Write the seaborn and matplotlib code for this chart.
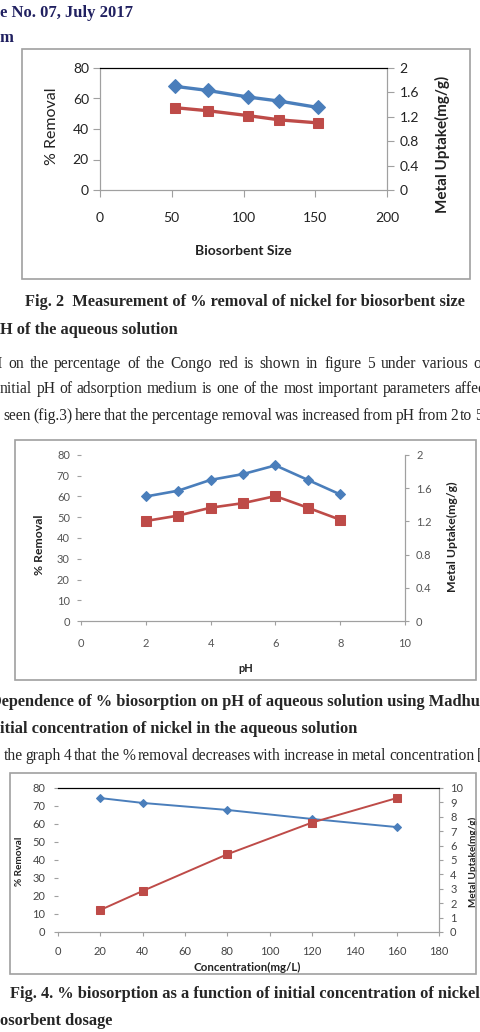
import matplotlib
matplotlib.use("Agg")
import matplotlib.pyplot as plt
from matplotlib.patches import Rectangle
import seaborn as sns
import pandas as pd

# Fig. 2 - effect of biosorbent size
size_x = [52, 75, 103, 125, 152]
size_removal = [68, 65.3, 61, 58.3, 54.1]
size_uptake = [1.35, 1.30, 1.22, 1.15, 1.10]

# Fig. 3 - effect of pH
ph_x = [2, 3, 4, 5, 6, 7, 8]
ph_removal = [60, 62.8, 68, 70.8, 75, 68, 61]
ph_uptake = [1.205, 1.27, 1.365, 1.42, 1.505, 1.365, 1.22]

# Fig. 4 - effect of initial concentration
conc_x = [20, 40, 80, 120, 160]
conc_removal = [74.4, 71.7, 67.8, 62.8, 58.3]
conc_uptake = [1.53, 2.85, 5.4, 7.6, 9.3]

BLUE = "#4a7ebb"
RED = "#be4b48"
GREY = "#a0a0a0"
W, H = 480, 1032

sns.set_style("ticks")
plt.rcParams["font.family"] = ["Lato", "DejaVu Sans"]

fig = plt.figure(figsize=(W / 100, H / 100), dpi=100)


def fx(x):
    return x / W


def fy(y):
    return 1 - y / H


def rect(l, t, r, b):
    return [fx(l), fy(b), (r - l) / W, (b - t) / H]


def box(l, t, r, b):
    fig.add_artist(Rectangle((fx(l), fy(b)), (r - l) / W, (b - t) / H,
                             transform=fig.transFigure, fill=False, ec=GREY, lw=1.2))


def draw_series(ax, x, y, color, marker, ms, lw):
    df = pd.DataFrame({"x": x, "y": y})
    sns.lineplot(data=df, x="x", y="y", ax=ax, color=color, marker=marker,
                 markersize=ms, linewidth=lw, markeredgecolor=color, legend=False)
    ax.set_xlabel("")
    ax.set_ylabel("")


serif = dict(family="Liberation Serif", size=12)
body = dict(family="Liberation Serif", size=11.2)
cap = dict(family="Liberation Serif", size=11.8, weight="bold")

# header
fig.text(0, fy(13), "e No. 07, July 2017", color="#202060", weight="bold", va="center", **serif)
fig.text(0, fy(38), "m", color="#202060", weight="bold", va="center", **serif)

# ---------------- Fig. 2 ----------------
box(22, 49, 470, 279)
ax = fig.add_axes(rect(100, 68, 387, 190))
draw_series(ax, size_x, size_removal, BLUE, "D", 7, 2.4)
ax.set_xlim(0, 200)
ax.set_ylim(0, 80)
ax.set_xticks(range(0, 201, 50))
ax.set_yticks(range(0, 81, 20))
ax2 = ax.twinx()
draw_series(ax2, size_x, size_uptake, RED, "s", 7.5, 2.4)
ax2.set_ylim(0, 2)
ax2.set_yticks([0, 0.4, 0.8, 1.2, 1.6, 2])
ax2.set_yticklabels(["0", "0.4", "0.8", "1.2", "1.6", "2"])
for a in (ax, ax2):
    for s in a.spines.values():
        s.set_color(GREY)
    a.spines["top"].set_color("black")
    a.tick_params(colors=GREY, labelcolor="#222222", labelsize=10, length=5)
ax.tick_params(axis="x", pad=11)
ax.tick_params(axis="y", pad=3)
ax2.tick_params(axis="y", pad=4)
ax.set_xlabel("Biosorbent Size", fontsize=10, weight="bold", color="#222222", va="center")
ax.xaxis.set_label_coords(0.498, -0.5)
ax.set_ylabel("% Removal", fontsize=11.5, color="#222222", va="center")
ax.yaxis.set_label_coords(-0.167, 0.525)
ax2.set_ylabel("Metal Uptake(mg/g)", fontsize=11, weight="bold", color="#222222", va="center")
ax2.yaxis.set_label_coords(1.195, 0.377)

fig.text(fx(25), fy(302), "Fig. 2  Measurement of % removal of nickel for biosorbent size",
         va="center", **cap)
fig.text(0, fy(330), "H of the aqueous solution", va="center", **cap)


def justified(text, x0, x_last, y, **kw):
    words = text.split()
    r = fig.canvas.get_renderer()
    objs = [fig.text(0, fy(y), w, va="center", **kw) for w in words]
    widths = [o.get_window_extent(r).width for o in objs]
    gap = (x_last - x0 - sum(widths[:-1])) / (len(words) - 1)
    x = x0
    for o, w in zip(objs, widths):
        o.set_x(fx(x))
        x += w + gap


fig.text(fx(2), fy(364), "H", ha="right", va="center", **body)
justified("on the percentage of the Congo red is shown in figure 5 under various oth",
          8, 473, 364, **body)
justified("nitial pH of adsorption medium is one of the most important parameters affec",
          0, 455, 389, **body)
justified("seen (fig.3) here that the percentage removal was increased from pH from 2 to 5",
          3, 475, 416, **body)

# ---------------- Fig. 3 ----------------
box(15, 440, 476, 680)
ax = fig.add_axes(rect(81, 455, 405, 621))
draw_series(ax, ph_x, ph_removal, BLUE, "D", 5.5, 1.9)
ax.set_xlim(0, 10)
ax.set_ylim(0, 80)
ax.set_xticks(range(0, 11, 2))
ax.set_yticks(range(0, 81, 10))
ax2 = ax.twinx()
draw_series(ax2, ph_x, ph_uptake, RED, "s", 6.5, 1.9)
ax2.set_ylim(0, 2)
ax2.set_yticks([0, 0.4, 0.8, 1.2, 1.6, 2])
ax2.set_yticklabels(["0", "0.4", "0.8", "1.2", "1.6", "2"])
for a in (ax, ax2):
    for s in a.spines.values():
        s.set_color(GREY)
    a.spines["top"].set_visible(False)
    a.spines["left"].set_visible(False)
    a.tick_params(colors=GREY, labelcolor="#555555", labelsize=8, length=3)
ax.tick_params(axis="x", pad=9)
ax.tick_params(axis="y", pad=5)
ax2.tick_params(axis="y", pad=5)
ax.set_xlabel("pH", fontsize=8, weight="bold", color="#222222", va="center")
ax.xaxis.set_label_coords(0.509, -0.289)
ax.set_ylabel("% Removal", fontsize=8.8, weight="bold", color="#222222", va="center")
ax.yaxis.set_label_coords(-0.127, 0.458)
ax2.set_ylabel("Metal Uptake(mg/g)", fontsize=8.8, weight="bold", color="#222222", va="center")
ax2.yaxis.set_label_coords(1.145, 0.506)

fig.text(fx(-10), fy(702), "Dependence of % biosorption on pH of aqueous solution using Madhu",
         va="center", **cap)
fig.text(0, fy(729), "itial concentration of nickel in the aqueous solution",
         va="center", **cap)
justified("the graph 4 that the % removal decreases with increase in metal concentration [",
          4, 477, 756, **body)

# ---------------- Fig. 4 ----------------
box(10, 773, 476, 974)
ax = fig.add_axes(rect(58, 788, 439, 932))
draw_series(ax, conc_x, conc_removal, BLUE, "D", 4.5, 1.4)
ax.set_xlim(0, 180)
ax.set_ylim(0, 80)
ax.set_xticks(range(0, 181, 20))
ax.set_yticks(range(0, 81, 10))
ax2 = ax.twinx()
draw_series(ax2, conc_x, conc_uptake, RED, "s", 6, 1.4)
ax2.set_ylim(0, 10)
ax2.set_yticks(range(0, 11))
for a in (ax, ax2):
    for s in a.spines.values():
        s.set_color(GREY)
    a.spines["top"].set_color("black")
    a.spines["left"].set_visible(False)
    a.tick_params(colors=GREY, labelcolor="#444444", labelsize=8, length=3)
ax.tick_params(axis="x", pad=7)
ax.tick_params(axis="y", pad=6)
ax2.tick_params(axis="y", pad=5)
ax.set_xlabel("Concentration(mg/L)", fontsize=8.3, weight="bold", color="#222222", va="center")
ax.xaxis.set_label_coords(0.496, -0.243)
ax.set_ylabel("% Removal", fontsize=7.2, weight="bold", color="#222222", va="center")
ax.yaxis.set_label_coords(-0.1, 0.493)
ax2.set_ylabel("Metal Uptake(mg/g)", fontsize=7.2, weight="bold", color="#222222", va="center")
ax2.yaxis.set_label_coords(1.089, 0.486)

fig.text(fx(10), fy(994), "Fig. 4. % biosorption as a function of initial concentration of nickel",
         va="center", **cap)
fig.text(0, fy(1021), "osorbent dosage", va="center", **cap)

fig.savefig("out.png", dpi=100, facecolor="white")
